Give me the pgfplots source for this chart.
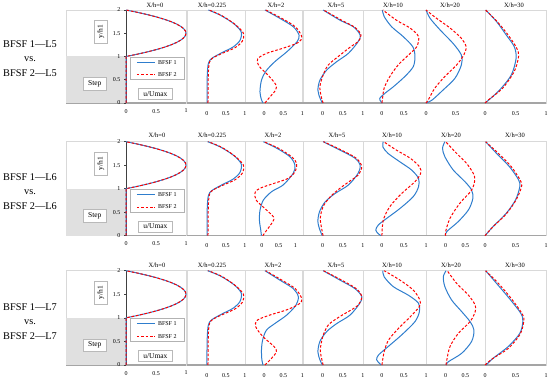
\documentclass[border=0pt]{standalone}
\usepackage{pgfplots}
\pgfplotsset{compat=1.18}
\usepackage{fontspec}
\setmainfont{Liberation Serif}
\definecolor{bblue}{RGB}{46,125,205}
\definecolor{rred}{RGB}{255,0,0}
\definecolor{framec}{RGB}{217,217,217}
\definecolor{baxis}{RGB}{165,165,165}
\tikzset{lab/.style={draw=gray!55, fill=white, font=\fontsize{7.5}{8}\selectfont, inner xsep=5pt, inner ysep=3pt}}
\pgfplotsset{
 panel/.style={scale only axis, ymin=0, ymax=2, axis x line=bottom, axis y line=none,
   x axis line style={-, draw=baxis, line width=1.4pt},
   axis background/.style={draw=framec, line width=0.6pt},
   xtick style={draw=none},
   xticklabel style={font=\fontsize{6}{7}\selectfont, yshift=-2.5pt},
   /pgf/number format/assume math mode=true, clip=false,
   xtick={0,0.5,1}, ytick=\empty},
 stepax/.style={panel, xmin=-1, xmax=0, width=60pt, xtick=\empty},
 first/.style={scale only axis, ymin=0, ymax=2, xmin=0, xmax=1, width=60pt,
   axis x line=bottom, axis y line=left,
   x axis line style={-, draw=baxis, line width=1.4pt},
   y axis line style={-, draw=black!75, line width=0.9pt},
   axis background/.style={draw=framec, line width=0.6pt},
   xtick={0,0.5,1}, ytick={0,0.5,1,1.5,2}, yticklabels={0,0.5,1,1.5,2},
   xtick style={draw=none}, ytick style={draw=black!75, line width=0.6pt},
   tick align=outside, major tick length=2pt,
   xticklabel style={font=\fontsize{6}{7}\selectfont, yshift=-0.5pt},
   yticklabel style={font=\fontsize{6}{7}\selectfont, text=black},
   /pgf/number format/assume math mode=true, clip=false},
 bl/.style={bblue, line width=1.0pt, smooth, no markers},
 rd/.style={rred, line width=1.0pt, dash pattern=on 2.6pt off 1.8pt, smooth, no markers},
 st/.style={fill=gray!24, draw=none, no markers, forget plot},
}
\newcommand\steppanel{%
  \addplot[st] coordinates {(-1,0) (0,0) (0,1) (-1,1)} -- cycle;
  \node[lab, rotate=90] at (axis cs:-0.42,1.53) {y/h1};
  \node[lab] at (axis cs:-0.52,0.42) {Step};
}
\newcommand\firstpanel{%
  \addplot[bblue, line width=1.0pt, no markers] coordinates {(0,0) (0,1) (0.19,1.05) (0.36,1.1) (0.51,1.15) (0.64,1.2) (0.75,1.25) (0.84,1.3) (0.91,1.35) (0.96,1.4) (0.99,1.45) (1,1.5) (0.99,1.55) (0.96,1.6) (0.91,1.65) (0.84,1.7) (0.75,1.75) (0.64,1.8) (0.51,1.85) (0.36,1.9) (0.19,1.95) (0,2)};
  \addplot[rred, line width=1.0pt, dash pattern=on 2.6pt off 1.8pt, no markers] coordinates {(0,0) (0,1) (0.19,1.05) (0.36,1.1) (0.51,1.15) (0.64,1.2) (0.75,1.25) (0.84,1.3) (0.91,1.35) (0.96,1.4) (0.99,1.45) (1,1.5) (0.99,1.55) (0.96,1.6) (0.91,1.65) (0.84,1.7) (0.75,1.75) (0.64,1.8) (0.51,1.85) (0.36,1.9) (0.19,1.95) (0,2)};
  \draw[draw=gray!60, fill=white, line width=0.5pt] (axis cs:0.07,0.5) rectangle (axis cs:0.97,0.99);
  \draw[bblue, line width=1pt] (axis cs:0.18,0.87) -- (axis cs:0.48,0.87);
  \draw[rred, line width=1pt, dash pattern=on 2.6pt off 1.8pt] (axis cs:0.18,0.61) -- (axis cs:0.48,0.61);
  \node[anchor=west, inner sep=0pt, font=\fontsize{6}{7}\selectfont] at (axis cs:0.53,0.87) {BFSF 1};
  \node[anchor=west, inner sep=0pt, font=\fontsize{6}{7}\selectfont] at (axis cs:0.53,0.61) {BFSF 2};
  \node[lab] at (axis cs:0.49,0.195) {u/Umax};
}
\begin{document}
\begin{tikzpicture}
\path[use as bounding box] (0,0) rectangle (550pt,378pt);
% ================= ROW 1 =================
\begin{axis}[stepax, at={(66pt,275pt)}, anchor=south west, height=93pt]
\steppanel
\end{axis}
\begin{axis}[first, at={(126pt,275pt)}, anchor=south west, height=93pt]
\firstpanel
\end{axis}
\begin{axis}[panel, at={(187pt,275pt)}, anchor=south west, width=58pt, height=93pt, xmin=-0.52, xmax=1]
\addplot[bl] coordinates {(0.01,0) (0.01,0.57) (0.04,0.85) (0.13,0.96) (0.39,1.08) (0.70,1.21) (0.87,1.35) (0.90,1.53) (0.70,1.71) (0.35,1.89) (0.04,2)};
\addplot[rd] coordinates {(0.03,0) (0.04,0.64) (0.07,0.88) (0.16,0.97) (0.41,1.07) (0.74,1.19) (0.93,1.33) (0.96,1.5) (0.74,1.69) (0.39,1.88) (0.06,2)};
\end{axis}
\begin{axis}[panel, at={(245pt,275pt)}, anchor=south west, width=57.5pt, height=93pt, xmin=-0.5, xmax=1]
\addplot[bl] coordinates {(-0.03,0) (-0.07,0.07) (-0.11,0.24) (-0.07,0.49) (0.05,0.69) (0.28,0.89) (0.59,1.1) (0.86,1.32) (0.91,1.46) (0.76,1.64) (0.41,1.82) (0.02,2)};
\addplot[rd] coordinates {(0.02,0) (0.14,0.12) (0.3,0.28) (0.3,0.4) (0.1,0.6) (-0.14,0.8) (-0.17,0.95) (0.07,1.07) (0.5,1.18) (0.89,1.3) (0.98,1.43) (0.81,1.64) (0.46,1.82) (0.04,2)};
\end{axis}
\begin{axis}[panel, at={(303pt,275pt)}, anchor=south west, width=60pt, height=93pt, xmin=-0.49, xmax=1]
\addplot[bl] coordinates {(-0.01,0) (-0.07,0.11) (-0.12,0.28) (-0.07,0.49) (0.10,0.71) (0.35,0.89) (0.64,1.07) (0.88,1.32) (0.93,1.46) (0.76,1.64) (0.43,1.78) (0.01,2)};
\addplot[rd] coordinates {(0.01,0) (-0.03,0.11) (-0.07,0.35) (0.01,0.6) (0.14,0.82) (0.43,1.03) (0.71,1.22) (0.88,1.32) (0.95,1.46) (0.81,1.62) (0.47,1.78) (0.02,2)};
\end{axis}
\begin{axis}[panel, at={(363pt,275pt)}, anchor=south west, width=63pt, height=93pt, xmin=-0.43, xmax=1, xtick={0,0.5}]
\addplot[bl] coordinates {(0,0) (-0.03,0.04) (-0.05,0.1) (0.07,0.21) (0.26,0.35) (0.52,0.57) (0.71,0.78) (0.75,1.0) (0.70,1.21) (0.48,1.43) (0.22,1.64) (0.05,1.86) (0.01,2)};
\addplot[rd] coordinates {(0,0) (0.01,0.07) (0.05,0.32) (0.18,0.57) (0.37,0.82) (0.6,1.03) (0.79,1.21) (0.83,1.43) (0.64,1.61) (0.33,1.78) (0.02,2)};
\end{axis}
\begin{axis}[panel, at={(426pt,275pt)}, anchor=south west, width=59pt, height=93pt, xmin=0, xmax=1, xtick={0,0.5}]
\addplot[bl] coordinates {(0,0) (0.1,0.06) (0.29,0.28) (0.49,0.53) (0.6,0.82) (0.6,1.03) (0.46,1.28) (0.24,1.57) (0.07,1.82) (0,2)};
\addplot[rd] coordinates {(0,0) (0.04,0.07) (0.15,0.32) (0.32,0.57) (0.52,0.82) (0.64,1.03) (0.68,1.21) (0.6,1.39) (0.41,1.61) (0.18,1.82) (0,2)};
\end{axis}
\begin{axis}[panel, at={(485pt,275pt)}, anchor=south west, width=61pt, height=93pt, xmin=0, xmax=1]
\addplot[bl] coordinates {(0,0) (0.04,0.04) (0.24,0.28) (0.43,0.6) (0.51,0.96) (0.48,1.21) (0.35,1.46) (0.19,1.75) (0.01,2)};
\addplot[rd] coordinates {(0,0) (0.06,0.07) (0.29,0.32) (0.48,0.68) (0.55,1.0) (0.52,1.18) (0.38,1.46) (0.2,1.75) (0.01,2)};
\end{axis}
% ================= ROW 2 =================
\begin{axis}[stepax, at={(66pt,142.3pt)}, anchor=south west, height=94pt]
\steppanel
\end{axis}
\begin{axis}[first, at={(126pt,142.3pt)}, anchor=south west, height=94pt]
\firstpanel
\end{axis}
\begin{axis}[panel, at={(187pt,142.3pt)}, anchor=south west, width=58pt, height=94pt, xmin=-0.52, xmax=1]
\addplot[bl] coordinates {(0.01,0) (0.01,0.57) (0.04,0.85) (0.13,0.96) (0.39,1.08) (0.70,1.21) (0.87,1.35) (0.90,1.53) (0.70,1.71) (0.35,1.89) (0.02,2)};
\addplot[rd] coordinates {(0.03,0) (0.04,0.64) (0.07,0.88) (0.16,0.97) (0.41,1.07) (0.74,1.19) (0.93,1.33) (0.96,1.5) (0.74,1.69) (0.39,1.88) (0.04,2)};
\end{axis}
\begin{axis}[panel, at={(245pt,142.3pt)}, anchor=south west, width=58pt, height=94pt, xmin=-0.5, xmax=1.23]
\addplot[bl] coordinates {(-0.01,0) (-0.03,0.12) (-0.07,0.33) (-0.05,0.55) (0.05,0.76) (0.3,0.94) (0.64,1.08) (0.94,1.33) (0.99,1.5) (0.84,1.68) (0.45,1.86) (0.05,2)};
\addplot[rd] coordinates {(0.03,0) (0.15,0.12) (0.33,0.3) (0.35,0.4) (0.09,0.58) (-0.17,0.76) (-0.2,0.92) (-0.05,1.01) (0.35,1.11) (0.79,1.22) (0.99,1.36) (1.04,1.54) (0.89,1.68) (0.5,1.86) (0.06,2)};
\end{axis}
\begin{axis}[panel, at={(303pt,142.3pt)}, anchor=south west, width=60pt, height=94pt, xmin=-0.49, xmax=1]
\addplot[bl] coordinates {(-0.01,0) (-0.07,0.12) (-0.12,0.3) (-0.08,0.51) (0.06,0.72) (0.31,0.9) (0.64,1.08) (0.88,1.33) (0.93,1.5) (0.8,1.65) (0.43,1.82) (0.01,2)};
\addplot[rd] coordinates {(0.01,0) (-0.02,0.12) (-0.06,0.37) (0.01,0.62) (0.19,0.83) (0.43,1.01) (0.72,1.19) (0.88,1.29) (0.97,1.47) (0.83,1.65) (0.47,1.82) (0.02,2)};
\end{axis}
\begin{axis}[panel, at={(363pt,142.3pt)}, anchor=south west, width=63pt, height=94pt, xmin=-0.43, xmax=1]
\addplot[bl] coordinates {(-0.02,0) (-0.08,0.04) (-0.14,0.12) (-0.08,0.23) (0.11,0.37) (0.41,0.58) (0.71,0.83) (0.83,1.04) (0.83,1.22) (0.67,1.4) (0.41,1.57) (0.14,1.75) (0.02,1.89) (0.03,2)};
\addplot[rd] coordinates {(0,0) (0.03,0.33) (0.18,0.62) (0.45,0.9) (0.75,1.15) (0.88,1.33) (0.85,1.47) (0.64,1.65) (0.33,1.82) (0.04,2)};
\end{axis}
\begin{axis}[panel, at={(426pt,142.3pt)}, anchor=south west, width=59pt, height=94pt, xmin=-0.5, xmax=1, xtick={0,0.5}]
\addplot[bl] coordinates {(-0.01,0) (0.03,0.09) (0.32,0.3) (0.58,0.55) (0.69,0.79) (0.66,0.97) (0.49,1.15) (0.19,1.4) (-0.02,1.68) (-0.08,1.86) (-0.02,2)};
\addplot[rd] coordinates {(0,0) (0,0.09) (0.11,0.37) (0.36,0.69) (0.66,0.97) (0.74,1.19) (0.70,1.33) (0.53,1.54) (0.28,1.75) (0,2)};
\end{axis}
\begin{axis}[panel, at={(485pt,142.3pt)}, anchor=south west, width=61pt, height=94pt, xmin=0, xmax=1]
\addplot[bl] coordinates {(0,0) (0.13,0.19) (0.35,0.48) (0.5,0.76) (0.57,1.04) (0.55,1.19) (0.4,1.47) (0.19,1.75) (0.01,2)};
\addplot[rd] coordinates {(0,0) (0.13,0.19) (0.34,0.45) (0.5,0.74) (0.59,1.0) (0.59,1.15) (0.43,1.47) (0.22,1.75) (0.01,2)};
\end{axis}
% ================= ROW 3 =================
\begin{axis}[stepax, at={(66pt,13pt)}, anchor=south west, height=94.3pt]
\steppanel
\end{axis}
\begin{axis}[first, at={(126pt,13pt)}, anchor=south west, height=94.3pt]
\firstpanel
\end{axis}
\begin{axis}[panel, at={(187pt,13pt)}, anchor=south west, width=58pt, height=94.3pt, xmin=-0.52, xmax=1]
\addplot[bl] coordinates {(0.0,0) (0.01,0.57) (0.04,0.85) (0.13,0.96) (0.39,1.08) (0.70,1.21) (0.87,1.35) (0.90,1.53) (0.70,1.71) (0.35,1.89) (0.02,2)};
\addplot[rd] coordinates {(0.03,0) (0.04,0.64) (0.07,0.88) (0.16,0.97) (0.41,1.07) (0.74,1.19) (0.93,1.33) (0.96,1.5) (0.74,1.69) (0.39,1.88) (0.04,2)};
\end{axis}
\begin{axis}[panel, at={(245pt,13pt)}, anchor=south west, width=57.5pt, height=94.3pt, xmin=-0.5, xmax=1]
\addplot[bl] coordinates {(-0.03,0) (-0.06,0.11) (-0.07,0.32) (-0.04,0.53) (0.06,0.74) (0.28,0.88) (0.59,1.06) (0.83,1.27) (0.89,1.45) (0.76,1.62) (0.41,1.8) (0.02,2)};
\addplot[rd] coordinates {(0.02,0) (0.19,0.14) (0.32,0.28) (0.26,0.39) (-0.03,0.6) (-0.22,0.81) (-0.18,0.95) (0.15,1.06) (0.59,1.17) (0.92,1.3) (0.98,1.41) (0.81,1.62) (0.46,1.8) (0.04,2)};
\end{axis}
\begin{axis}[panel, at={(303pt,13pt)}, anchor=south west, width=60pt, height=94.3pt, xmin=-0.49, xmax=1]
\addplot[bl] coordinates {(-0.01,0) (-0.07,0.11) (-0.12,0.28) (-0.07,0.5) (0.1,0.71) (0.35,0.88) (0.68,1.06) (0.92,1.31) (0.97,1.45) (0.8,1.62) (0.43,1.8) (0.01,2)};
\addplot[rd] coordinates {(0.01,0) (-0.02,0.11) (-0.06,0.32) (0,0.6) (0.14,0.85) (0.43,1.03) (0.71,1.17) (0.88,1.27) (0.97,1.45) (0.83,1.62) (0.47,1.8) (0.02,2)};
\end{axis}
\begin{axis}[panel, at={(363pt,13pt)}, anchor=south west, width=63pt, height=94.3pt, xmin=-0.43, xmax=1]
\addplot[bl] coordinates {(-0.02,0) (-0.05,0.03) (-0.12,0.11) (-0.08,0.21) (0.14,0.39) (0.45,0.64) (0.75,0.92) (0.85,1.13) (0.83,1.31) (0.6,1.48) (0.26,1.66) (0.05,1.87) (0.02,2)};
\addplot[rd] coordinates {(0,0) (0.05,0.28) (0.15,0.53) (0.38,0.78) (0.64,1.02) (0.85,1.24) (0.86,1.38) (0.71,1.59) (0.41,1.8) (0.05,2)};
\end{axis}
\begin{axis}[panel, at={(426pt,13pt)}, anchor=south west, width=59pt, height=94.3pt, xmin=-0.5, xmax=1, xtick={0,0.5}]
\addplot[bl] coordinates {(0.01,0) (0.07,0.07) (0.41,0.25) (0.66,0.5) (0.72,0.74) (0.62,0.92) (0.41,1.13) (0.15,1.38) (-0.02,1.66) (-0.06,1.87) (0.01,2)};
\addplot[rd] coordinates {(0.01,0) (0.03,0.11) (0.11,0.39) (0.32,0.67) (0.62,0.92) (0.75,1.13) (0.75,1.27) (0.58,1.48) (0.28,1.73) (0.04,2)};
\end{axis}
\begin{axis}[panel, at={(485pt,13pt)}, anchor=south west, width=61pt, height=94.3pt, xmin=0, xmax=1]
\addplot[bl] coordinates {(0.02,0) (0.13,0.14) (0.38,0.39) (0.57,0.67) (0.62,0.92) (0.59,1.09) (0.4,1.41) (0.19,1.73) (0.01,2)};
\addplot[rd] coordinates {(0,0) (0.13,0.14) (0.38,0.35) (0.57,0.64) (0.63,0.88) (0.62,1.06) (0.43,1.41) (0.22,1.73) (0.01,2)};
\end{axis}
% ================= titles and row labels =================
\begin{scope}[every node/.style={font=\fontsize{6.5}{7}\selectfont, inner sep=0pt}]
\node at (155pt,373pt) {X/h=0};
\node at (212pt,373pt) {X/h=0.225};
\node at (276pt,373pt) {X/h=2};
\node at (336pt,373pt) {X/h=5};
\node at (393pt,373pt) {X/h=10};
\node at (450pt,373pt) {X/h=20};
\node at (514pt,373pt) {X/h=30};
\node at (157pt,243pt) {X/h=0};
\node at (212pt,243pt) {X/h=0.225};
\node at (273pt,243pt) {X/h=2};
\node at (337pt,243pt) {X/h=5};
\node at (392pt,243pt) {X/h=10};
\node at (451pt,243pt) {X/h=20};
\node at (515pt,243pt) {X/h=30};
\node at (157pt,113pt) {X/h=0};
\node at (212pt,113pt) {X/h=0.225};
\node at (273pt,113pt) {X/h=2};
\node at (336pt,113pt) {X/h=5};
\node at (392pt,113pt) {X/h=10};
\node at (451pt,113pt) {X/h=20};
\node at (515pt,113pt) {X/h=30};
\end{scope}
\begin{scope}[every node/.style={font=\fontsize{10.3}{14.5}\selectfont, align=center, inner sep=0pt}]
\node at (30pt,319.5pt) {BFSF 1---L5\\vs.\\BFSF 2---L5};
\node at (30pt,186.5pt) {BFSF 1---L6\\vs.\\BFSF 2---L6};
\node at (30pt,56.5pt) {BFSF 1---L7\\vs.\\BFSF 2---L7};
\end{scope}
\end{tikzpicture}
\end{document}
